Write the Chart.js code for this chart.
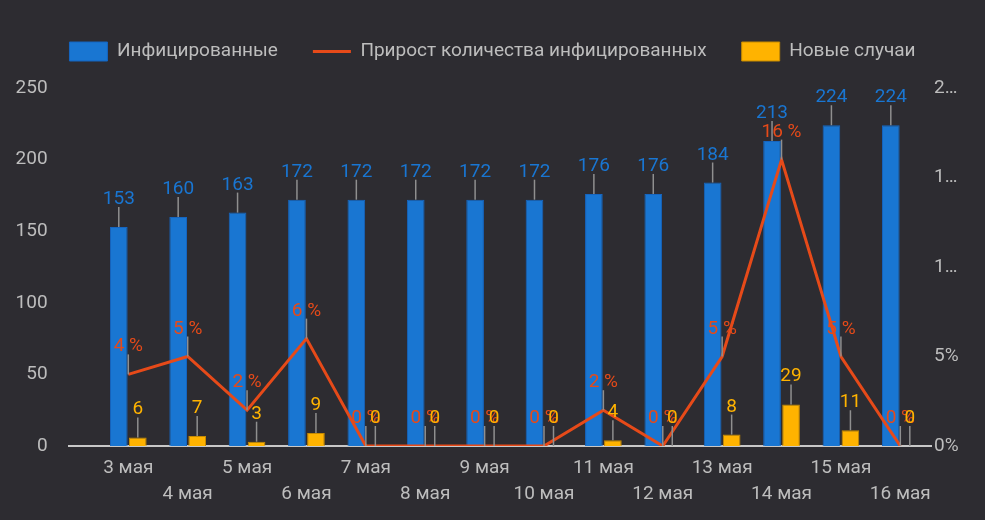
<!DOCTYPE html>
<html>
<head>
<meta charset="utf-8">
<script src="https://cdn.jsdelivr.net/npm/chart.js@4.4.1/dist/chart.umd.min.js"></script>
<style>
  html, body { margin: 0; padding: 0; background: #2d2c31; }
  #wrap { width: 985px; height: 520px; }
</style>
</head>
<body>
<div id="wrap"><canvas id="chart" width="985" height="520"></canvas></div>
<script>
// data
const days = ['3 мая', '4 мая', '5 мая', '6 мая', '7 мая', '8 мая', '9 мая',
  '10 мая', '11 мая', '12 мая', '13 мая', '14 мая', '15 мая', '16 мая'];
const infected = [153, 160, 163, 172, 172, 172, 172, 172, 176, 176, 184, 213, 224, 224];
const growthPct = [4, 5, 2, 6, 0, 0, 0, 0, 2, 0, 5, 16, 5, 0];
const newCases = [6, 7, 3, 9, 0, 0, 0, 0, 4, 0, 8, 29, 11, 0];
const leftTicks = [0, 50, 100, 150, 200, 250];
const rightTicks = [0, 5, 10, 15, 20];

const BLUE = '#1976d2';
const ORANGE = '#e64a19';
const YELLOW = '#ffb300';
const TEXT = '#bdbdbd';
const FONT = 'Roboto';

// axis baseline, starts left of the plot like the original
const baseline = {
  id: 'baseline',
  beforeDatasetsDraw(chart) {
    const ctx = chart.ctx;
    const y = chart.scales.y.getPixelForValue(0);
    ctx.save();
    ctx.strokeStyle = '#c8c8c8';
    ctx.lineWidth = 2;
    ctx.beginPath();
    ctx.moveTo(68, y);
    ctx.lineTo(chart.chartArea.right + 2, y);
    ctx.stroke();
    ctx.restore();
  }
};

// value labels with small leader lines
const valueLabels = {
  id: 'valueLabels',
  afterDatasetsDraw(chart) {
    const ctx = chart.ctx;
    ctx.save();
    ctx.font = '19px ' + FONT;
    ctx.textAlign = 'center';
    ctx.textBaseline = 'alphabetic';
    const colors = [BLUE, ORANGE, YELLOW];
    [0, 1, 2].forEach(i => {
      const meta = chart.getDatasetMeta(i);
      const values = chart.data.datasets[i].data;
      meta.data.forEach((el, j) => {
        const x = el.x, y = el.y;
        ctx.strokeStyle = '#8f8f8f';
        ctx.lineWidth = 1.5;
        ctx.beginPath();
        ctx.moveTo(x, y);
        ctx.lineTo(x, y - 20);
        ctx.stroke();
        ctx.fillStyle = colors[i];
        const txt = i === 1 ? values[j] + ' %' : String(values[j]);
        ctx.fillText(txt, x, y - 23);
      });
    });
    ctx.restore();
  }
};

new Chart(document.getElementById('chart'), {
  type: 'bar',
  data: {
    labels: days,
    datasets: [{
      label: 'Инфицированные',
      data: infected,
      backgroundColor: BLUE,
      borderColor: '#1565c0',
      borderWidth: 1,
      pointStyle: 'rect',
      categoryPercentage: 0.64,
      barPercentage: 0.93,
      yAxisID: 'y',
      order: 1
    }, {
      type: 'line',
      label: 'Прирост количества инфицированных',
      data: growthPct,
      borderColor: ORANGE,
      backgroundColor: ORANGE,
      borderWidth: 3,
      pointRadius: 0,
      pointStyle: 'line',
      tension: 0,
      yAxisID: 'y2',
      order: 0
    }, {
      label: 'Новые случаи',
      data: newCases,
      backgroundColor: YELLOW,
      borderColor: '#c68a00',
      borderWidth: 1,
      pointStyle: 'rect',
      categoryPercentage: 0.64,
      barPercentage: 0.93,
      yAxisID: 'y',
      order: 1
    }]
  },
  options: {
    responsive: false,
    animation: false,
    layout: { padding: { top: 7, left: 0, right: 0, bottom: 0 } },
    plugins: {
      tooltip: { enabled: false },
      // empty title used only as a spacer between legend and plot
      title: {
        display: true,
        text: '',
        weight: 500,
        padding: 0,
        font: { size: 17, lineHeight: 1 }
      },
      legend: {
        position: 'top',
        labels: {
          color: TEXT,
          font: { family: FONT, size: 19 },
          usePointStyle: true,
          pointStyleWidth: 38,
          boxHeight: 19,
          padding: 35,
          sort: (a, b) => a.datasetIndex - b.datasetIndex
        }
      }
    },
    scales: {
      x: {
        grid: { display: false, drawTicks: false },
        border: { display: false },
        ticks: {
          color: TEXT,
          font: { family: FONT, size: 19, lineHeight: 26 / 19 },
          padding: 9,
          autoSkip: false,
          maxRotation: 0,
          callback: function (v, i) {
            const t = this.getLabelForValue(v);
            return i % 2 === 0 ? t : ['', t];
          }
        },
        afterFit: s => { s.height = 74; }
      },
      y: {
        position: 'left',
        min: 0,
        max: 250,
        grid: { display: false, drawTicks: false },
        border: { display: false },
        ticks: { color: TEXT, font: { family: FONT, size: 19 }, padding: 51 },
        afterBuildTicks: s => { s.ticks = leftTicks.map(v => ({ value: v })); },
        afterFit: s => { s.width = 98.6; }
      },
      y2: {
        position: 'right',
        min: 0,
        max: 20,
        grid: { display: false, drawTicks: false },
        border: { display: false },
        ticks: {
          color: TEXT,
          font: { family: FONT, size: 19 },
          padding: 4,
          callback: v => (v < 10 ? v + '%' : String(v)[0] + '…')
        },
        afterBuildTicks: s => { s.ticks = rightTicks.map(v => ({ value: v })); },
        afterFit: s => { s.width = 55; }
      }
    }
  },
  plugins: [baseline, valueLabels]
});
</script>
</body>
</html>
